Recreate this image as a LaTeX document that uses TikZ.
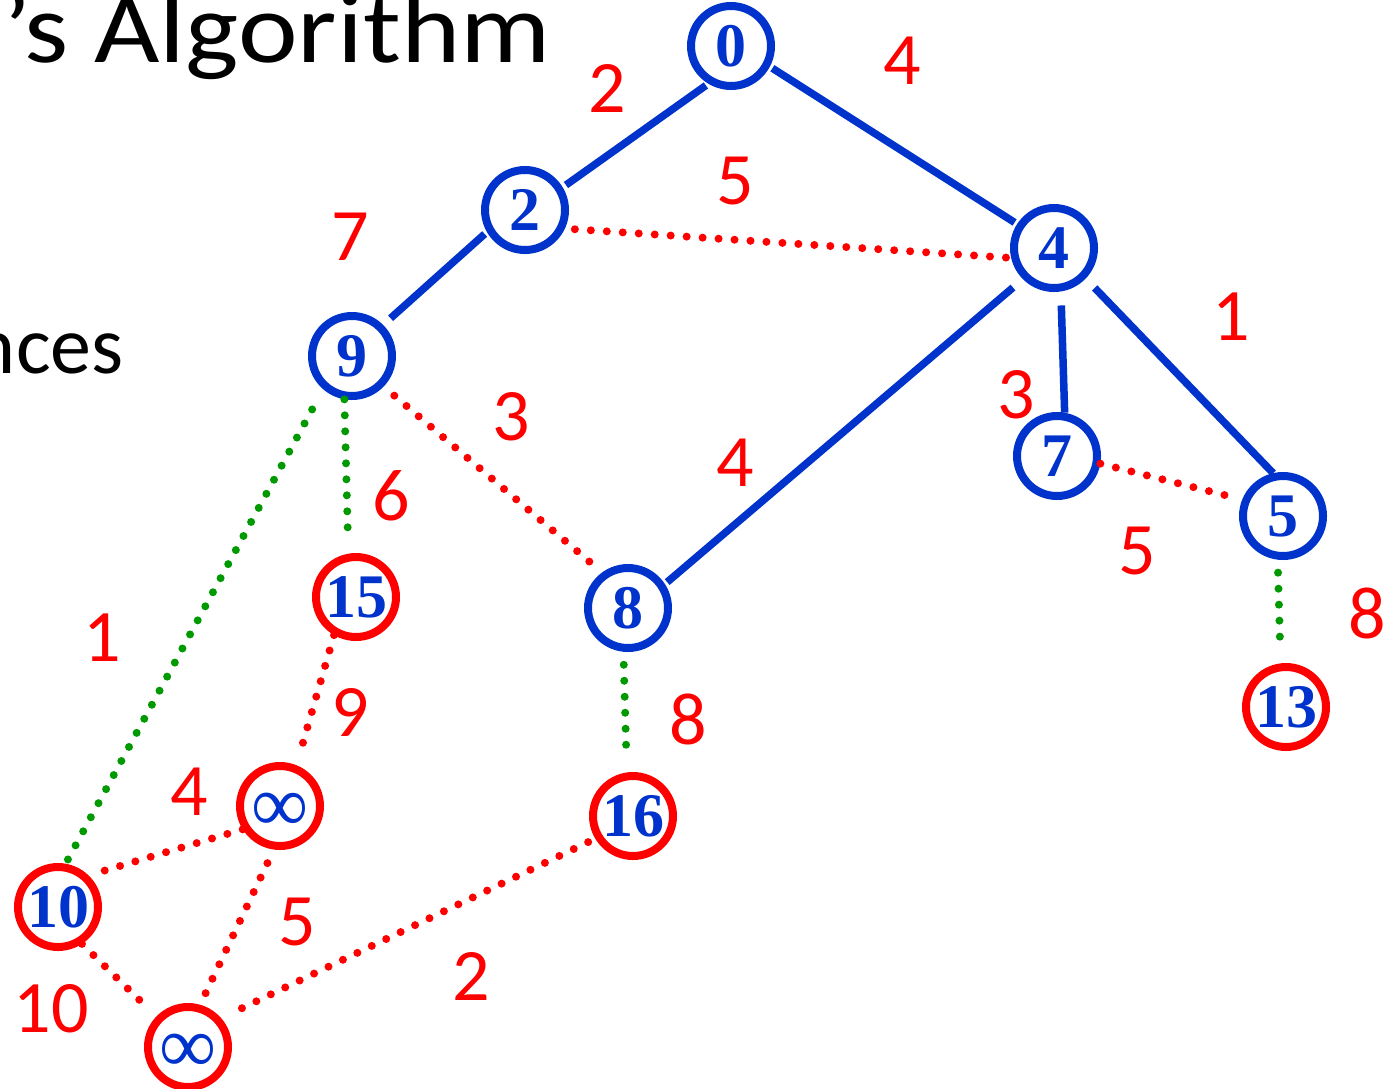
\documentclass[tikz,border=0pt]{standalone}
\usepackage{fontspec}
\setmainfont{Carlito}
\newfontfamily\keyfont{Liberation Serif}
\newfontfamily\slidefont[FakeStretch=1.13]{Carlito}
\usetikzlibrary{shapes.geometric, arrows}
\definecolor{keyblue}{RGB}{0,51,204}
\definecolor{costred}{RGB}{255,0,0}
\definecolor{pqgreen}{RGB}{0,153,0}
\newcommand{\nokey}{\raisebox{0pt}[\dimexpr\height+6pt\relax][\depth]{\mdseries\fontsize{40}{40}\selectfont ∞}}
\tikzstyle{intree} = [circle, minimum size=40pt, inner sep=0pt, line width=4pt, draw=keyblue, text=keyblue, font=\keyfont\bfseries\fontsize{31}{31}\selectfont]
\tikzstyle{inqueue} = [intree, draw=costred]
\tikzstyle{cost} = [text=costred, inner sep=0pt, font=\fontsize{37}{37}\selectfont]
\tikzstyle{slide} = [anchor=base east, inner sep=0pt]
\tikzstyle{treeedge} = [line width=3.75pt, draw=keyblue, shorten <=1.5pt, shorten >=1.5pt]
\tikzstyle{otheredge} = [line width=4pt, draw=costred, line cap=round, dash pattern=on 0pt off 8pt]
\tikzstyle{queueedge} = [otheredge, draw=pqgreen]

\begin{document}
\begin{tikzpicture}[x=0.5pt, y=-0.5pt]
    \useasboundingbox (0,0) rectangle (1384,1088);
    % slide text
    \node (title) [slide, font=\slidefont\fontsize{50}{50}\selectfont] at (551,62) {’s Algorithm};
    \node (dist) [slide, font=\fontsize{41}{41}\selectfont] at (124,373) {nces};

    % vertices
    \node (n0) [intree] at (731,46) {0};
    \node (n2) [intree] at (525,210) {2};
    \node (n4) [intree] at (1054,248) {4};
    \node (n9) [intree] at (352,356) {9};
    \node (n7) [intree] at (1057,456) {7};
    \node (n5) [intree] at (1283,516) {5};
    \node (n8) [intree] at (628,608) {8};
    \node (n15) [inqueue] at (356,597) {15};
    \node (n13) [inqueue] at (1286,707) {13};
    \node (n16) [inqueue] at (633,816) {16};
    \node (n10) [inqueue] at (58,907) {10};
    \node (inf1) [inqueue] at (280,806) {\nokey};
    \node (inf2) [inqueue] at (188,1047) {\nokey};

    % tree edges
    \draw [treeedge, shorten >=2pt] (n0.239) -- (n2.31);
    \draw [treeedge] (n0.332) -- (n4.147);
    \draw [treeedge, shorten >=5pt] (n2.210) -- (n9.45);
    \draw [treeedge, shorten <=6.5pt] (n4.225) -- (n8.33);
    \draw [treeedge, shorten <=7pt, shorten >=0pt] (n4.279) -- (n7.80);
    \draw [treeedge, shorten <=6.5pt, shorten >=0pt] (n4.316) -- (n5.103);

    % other edges
    \draw [otheredge, shorten <=5pt] (n2.335) -- (n4.193);
    \draw [otheredge, shorten <=7pt, shorten >=7pt] (n9.316) -- (n8.126);
    \draw [otheredge, shorten >=10pt] (n15.240) -- (inf1.68);
    \draw [otheredge, shorten >=7pt] (inf1.212) -- (n10.46);
    \draw [otheredge, shorten >=10pt] (n10.303) -- (inf2.136);
    \draw [otheredge, shorten <=7.5pt, shorten >=6pt] (inf1.262) -- (inf2.74);
    \draw [otheredge, shorten <=11.5pt] (inf2.41) -- (n16.211);
    \draw [otheredge, shorten >=8.5pt] (n7.350) -- (n5.158);

    % queue edges
    \draw [queueedge, shorten >=5.5pt] (n9.260) -- (n15.100);
    \draw [queueedge, shorten <=11.5pt] (n9.229) -- (n10.80);
    \draw [queueedge, shorten <=6.5pt, shorten >=13pt] (n8.264) -- (n16.98);
    \draw [queueedge, shorten <=6.5pt, shorten >=12.5pt] (n5.263) -- (n13.97);

    % costs
    \node (c02) [cost] at (607,88) {2};
    \node (c04) [cost] at (902,61) {4};
    \node (c24) [cost] at (735,181) {5};
    \node (c29) [cost] at (350,237) {7};
    \node (c45) [cost] at (1231,317) {1};
    \node (c47) [cost] at (1016,395) {3};
    \node (c98) [cost] at (511,417) {3};
    \node (c48) [cost] at (735,463) {4};
    \node (c915) [cost] at (391,496) {6};
    \node (c75) [cost] at (1137,551) {5};
    \node (c513) [cost] at (1367,613) {8};
    \node (c910) [cost] at (102,638) {1};
    \node (c15i) [cost] at (350,712) {9};
    \node (c816) [cost] at (688,719) {8};
    \node (ci10) [cost] at (189,792) {4};
    \node (cii) [cost] at (297,922) {5};
    \node (ci16) [cost] at (471,976) {2};
    \node (c10i) [cost] at (51,1009) {10};
\end{tikzpicture}
\end{document}
